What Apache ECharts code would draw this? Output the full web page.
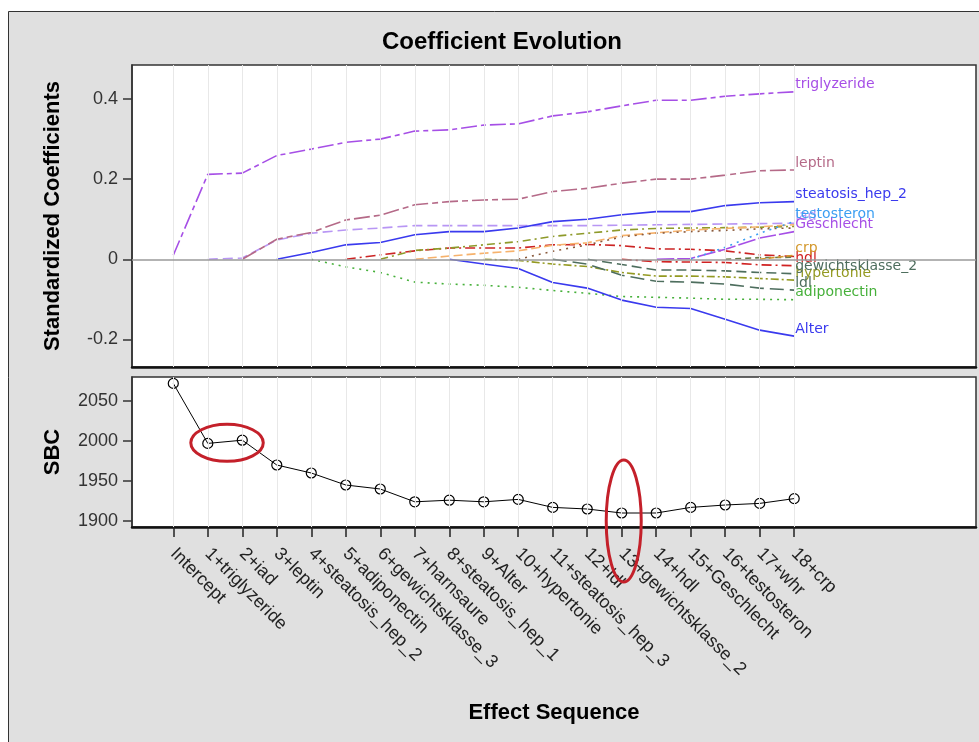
<!DOCTYPE html>
<html><head><meta charset="utf-8">
<script src="https://cdn.jsdelivr.net/npm/echarts@6/dist/echarts.min.js"></script>
<style>html,body{margin:0;padding:0;background:#fff}#c{width:979px;height:742px}</style>
</head><body><div id="c"></div>
<script>
// ---------- data ----------
const categories = ['Intercept','1+triglyzeride','2+iad','3+leptin','4+steatosis_hep_2','5+adiponectin',
  '6+gewichtsklasse_3','7+harnsaure','8+steatosis_hep_1','9+Alter','10+hypertonie','11+steatosis_hep_3',
  '12+ldl','13+gewichtsklasse_2','14+hdl','15+Geschlecht','16+testosteron','17+whr','18+crp'];
const sbc = [2072, 1997, 2001, 1970, 1960, 1945, 1940, 1924, 1926, 1924, 1927, 1917, 1915, 1910, 1910, 1917, 1920, 1922, 1928];

const _ = null;
const triglyzeride    = [0.010, 0.212, 0.215, 0.259, 0.275, 0.292, 0.300, 0.320, 0.323, 0.335, 0.338, 0.358, 0.368, 0.383, 0.397, 0.397, 0.407, 0.413, 0.418];
const iad             = [_, 0, 0.003, 0.048, 0.065, 0.073, 0.078, 0.084, 0.084, 0.084, 0.084, 0.084, 0.084, 0.085, 0.086, 0.087, 0.088, 0.089, 0.090];
const leptin          = [_, _, 0, 0.050, 0.067, 0.098, 0.110, 0.136, 0.144, 0.148, 0.150, 0.169, 0.177, 0.190, 0.200, 0.200, 0.210, 0.221, 0.223];
const steatosis_hep_2 = [_, _, _, 0, 0.017, 0.036, 0.042, 0.061, 0.069, 0.069, 0.078, 0.094, 0.100, 0.111, 0.119, 0.119, 0.134, 0.141, 0.144];
const adiponectin     = [_, _, _, _, 0, -0.019, -0.033, -0.057, -0.062, -0.065, -0.070, -0.078, -0.085, -0.093, -0.095, -0.097, -0.100, -0.100, -0.101];
const gewichtsklasse_3= [_, _, _, _, _, 0, 0.011, 0.021, 0.028, 0.028, 0.028, 0.036, 0.037, 0.034, 0.026, 0.025, 0.021, 0.011, 0.007];
const harnsaure       = [_, _, _, _, _, _, 0, 0.022, 0.028, 0.036, 0.044, 0.057, 0.065, 0.073, 0.077, 0.078, 0.079, 0.080, 0.082];
const steatosis_hep_1 = [_, _, _, _, _, _, _, 0, 0.008, 0.015, 0.021, 0.035, 0.041, 0.059, 0.066, 0.073, 0.077, 0.081, 0.086];
const Alter           = [_, _, _, _, _, _, _, _, 0, -0.012, -0.023, -0.058, -0.072, -0.102, -0.120, -0.123, -0.150, -0.177, -0.192];
const hypertonie      = [_, _, _, _, _, _, _, _, _, 0, -0.003, -0.012, -0.018, -0.033, -0.042, -0.042, -0.044, -0.048, -0.052];
const steatosis_hep_3 = [_, _, _, _, _, _, _, _, _, _, 0, 0.020, 0.036, 0.056, 0.065, 0.069, 0.072, 0.076, 0.078];
const ldl             = [_, _, _, _, _, _, _, _, _, _, _, 0, -0.012, -0.040, -0.055, -0.057, -0.062, -0.072, -0.077];
const gewichtsklasse_2= [_, _, _, _, _, _, _, _, _, _, _, _, 0, -0.013, -0.027, -0.027, -0.029, -0.033, -0.036];
const hdl             = [_, _, _, _, _, _, _, _, _, _, _, _, _, 0, -0.006, -0.007, -0.008, -0.014, -0.016];
const Geschlecht      = [_, _, _, _, _, _, _, _, _, _, _, _, _, _, 0, 0.002, 0.025, 0.053, 0.069];
const testosteron     = [_, _, _, _, _, _, _, _, _, _, _, _, _, _, _, 0, 0.030, 0.065, 0.094];
const whr             = [_, _, _, _, _, _, _, _, _, _, _, _, _, _, _, _, 0, 0.004, 0.005];
const crp             = [_, _, _, _, _, _, _, _, _, _, _, _, _, _, _, _, _, 0, 0.010];

const coefTicks = [-0.2, 0, 0.2, 0.4];
const sbcTicks = [1900, 1950, 2000, 2050];
const circledSteps = [[1, 2], [13, 13]];

// ---------- styles ----------
const coefSeries = [
  {name:'triglyzeride', data:triglyzeride, color:'#a64fe6', dash:[16,4,5,4], label:true},
  {name:'iad', data:iad, color:'#b896f4', dash:[10,5], label:true},
  {name:'leptin', data:leptin, color:'#b56a88', dash:[16,4,6,4], label:true},
  {name:'steatosis_hep_2', data:steatosis_hep_2, color:'#3a3aee', dash:'solid', label:true},
  {name:'adiponectin', data:adiponectin, color:'#46b03a', dash:[2,5], label:true},
  {name:'gewichtsklasse_3', data:gewichtsklasse_3, color:'#cc2424', dash:[10,4,2,4], label:false},
  {name:'harnsaure', data:harnsaure, color:'#8e9a2a', dash:[8,4,2,4], label:false},
  {name:'steatosis_hep_1', data:steatosis_hep_1, color:'#f6b26c', dash:[9,4], label:false},
  {name:'Alter', data:Alter, color:'#3a3aee', dash:'solid', label:true},
  {name:'hypertonie', data:hypertonie, color:'#949a22', dash:[8,3,2,3], label:true},
  {name:'steatosis_hep_3', data:steatosis_hep_3, color:'#8a5a3c', dash:[2,5], label:false},
  {name:'ldl', data:ldl, color:'#4e6e5e', dash:[14,6], label:true},
  {name:'gewichtsklasse_2', data:gewichtsklasse_2, color:'#4e6e5e', dash:[10,5], label:true},
  {name:'hdl', data:hdl, color:'#d02222', dash:[10,4,2,4], label:true},
  {name:'Geschlecht', data:Geschlecht, color:'#a64fe6', dash:[18,3], label:true},
  {name:'testosteron', data:testosteron, color:'#3c9ff2', dash:[2,5], label:true},
  {name:'whr', data:whr, color:'#6a7a4a', dash:[6,4], label:false},
  {name:'crp', data:crp, color:'#d4982c', dash:[6,3], label:true}
];

const FONT = 'Liberation Sans';
const idx = categories.map((c, i) => i);
const xMin = -1.197, xMax = 23.27;

const chart = echarts.init(document.getElementById('c'), null, {renderer:'canvas'});

const vGrid = idx.map(i => ({xAxis: i}));

const series = [
  { // reference lines (top)
    type:'line', xAxisIndex:0, yAxisIndex:0, data:[[0,0]], symbol:'none', z:1,
    lineStyle:{opacity:0}, silent:true,
    markLine:{silent:true, symbol:'none', label:{show:false}, animation:false,
      data:[...vGrid.map(d => Object.assign({lineStyle:{color:'#e8e8e8', width:1, type:'solid'}}, d)),
            {yAxis:0, lineStyle:{color:'#9a9a9a', width:1.5, type:'solid'}}]}
  },
  { // reference lines (bottom)
    type:'line', xAxisIndex:1, yAxisIndex:1, data:[[0,sbc[0]]], symbol:'none', z:1,
    lineStyle:{opacity:0}, silent:true,
    markLine:{silent:true, symbol:'none', label:{show:false}, animation:false,
      data: vGrid.map(d => Object.assign({lineStyle:{color:'#e8e8e8', width:1, type:'solid'}}, d))}
  }
];

coefSeries.forEach(s => {
  series.push({
    name:s.name, type:'line', xAxisIndex:0, yAxisIndex:0, z:3,
    data: s.data.map((v, i) => [i, v]),
    symbol:'none', animation:false,
    lineStyle:{color:s.color, width:1.6, type:s.dash},
    endLabel: s.label ? {show:true, formatter:s.name, color:s.color, fontFamily:'DejaVu Sans',
      fontSize:14, distance:1, offset:[0,-7]} : {show:false}
  });
});

series.push({
  name:'SBC', type:'line', xAxisIndex:1, yAxisIndex:1, z:3, animation:false,
  data: sbc.map((v, i) => [i, v]),
  symbol:'circle', symbolSize:10,
  itemStyle:{color:'rgba(0,0,0,0)', borderColor:'#000', borderWidth:1.2},
  lineStyle:{color:'#000', width:1}
});

const grids = [
  {left:132, right:3, top:65, height:302, show:true, backgroundColor:'#fff', borderColor:'#333', borderWidth:1.5},
  {left:132, right:3, top:377, height:150, show:true, backgroundColor:'#fff', borderColor:'#333', borderWidth:1.5}
];

const option = {
  backgroundColor:'#fff',
  animation:false,
  grid: grids,
  xAxis: [
    {type:'value', gridIndex:0, min:xMin, max:xMax, axisLabel:{show:false}, axisTick:{show:false},
     splitLine:{show:false}, axisLine:{show:true, onZero:false, lineStyle:{color:'#111', width:2.5}}},
    {type:'value', gridIndex:1, min:xMin, max:xMax, splitLine:{show:false},
     axisLine:{show:true, onZero:false, lineStyle:{color:'#111', width:2.5}},
     axisTick:{show:true, customValues:idx, length:10, lineStyle:{color:'#222', width:1.5}},
     axisLabel:{customValues:idx, formatter:v => categories[v], rotate:-45, fontSize:18,
       fontFamily:FONT, color:'#222', margin:24},
     name:'Effect Sequence', nameLocation:'middle', nameGap:175,
     nameTextStyle:{fontSize:22, fontWeight:'bold', fontFamily:FONT, color:'#000'}}
  ],
  yAxis: [
    {type:'value', gridIndex:0, min:-0.269, max:0.485, splitLine:{show:false},
     axisLine:{show:true, onZero:false, lineStyle:{color:'#333', width:1.5}},
     axisTick:{show:true, customValues:coefTicks, length:9, lineStyle:{color:'#333', width:1.5}},
     axisLabel:{customValues:coefTicks, formatter:v => v === 0 ? '0' : v.toFixed(1), fontSize:18,
       fontFamily:FONT, color:'#333', margin:14},
     name:'Standardized Coefficients', nameLocation:'middle', nameGap:68,
     nameTextStyle:{fontSize:22, fontWeight:'bold', fontFamily:FONT, color:'#000'}},
    {type:'value', gridIndex:1, min:1892.5, max:2080, splitLine:{show:false},
     axisLine:{show:true, onZero:false, lineStyle:{color:'#333', width:1.5}},
     axisTick:{show:true, customValues:sbcTicks, length:9, lineStyle:{color:'#333', width:1.5}},
     axisLabel:{customValues:sbcTicks, formatter:v => String(v), fontSize:18, fontFamily:FONT, color:'#333', margin:14},
     name:'SBC', nameLocation:'middle', nameGap:68,
     nameTextStyle:{fontSize:22, fontWeight:'bold', fontFamily:FONT, color:'#000'}}
  ],
  graphic: [
    {id:'bg', type:'rect', z:-10, silent:true, shape:{x:8.5, y:11.5, width:1000, height:760},
     style:{fill:'#e0e0e0', stroke:'#333', lineWidth:1}},
    {id:'title', type:'text', x:502, y:42, silent:true,
     style:{text:'Coefficient Evolution', align:'center', verticalAlign:'middle',
       fontSize:24, fontWeight:'bold', fontFamily:FONT, fill:'#000'}}
  ],
  series: series
};
chart.setOption(option);

// red annotation ellipses around selected steps of the SBC panel
const ellipseStyle = [{padX:19, ry:18.5, dy:1}, {padX:17.5, ry:61, dy:8}];
const ellipses = circledSteps.map((g, k) => {
  const a = chart.convertToPixel({gridIndex:1}, [g[0], (sbc[g[0]] + sbc[g[1]]) / 2]);
  const b = chart.convertToPixel({gridIndex:1}, [g[1], (sbc[g[0]] + sbc[g[1]]) / 2]);
  const st = ellipseStyle[k];
  return {id:'ell' + k, type:'ellipse', z:100, silent:true,
    shape:{cx:(a[0] + b[0]) / 2 + 2, cy:a[1] + st.dy, rx:(b[0] - a[0]) / 2 + st.padX, ry:st.ry},
    style:{fill:'none', stroke:'#c4202a', lineWidth:3}};
});
chart.setOption({graphic: ellipses});
</script>
</body></html>
